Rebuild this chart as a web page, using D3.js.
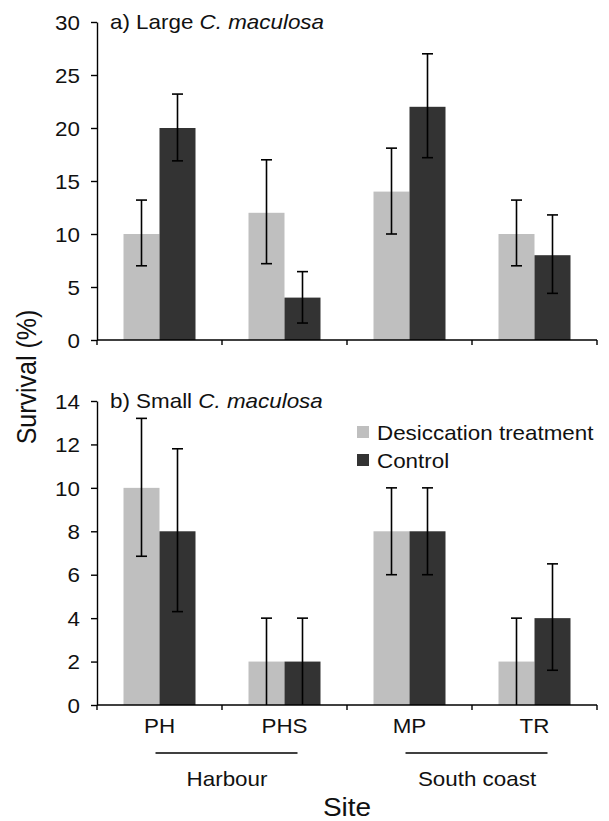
<!DOCTYPE html>
<html>
<head>
<meta charset="utf-8">
<script src="https://cdn.jsdelivr.net/npm/d3@7"></script>
<style>
  html, body { margin: 0; padding: 0; background: #fff; }
  svg { display: block; font-family: "Liberation Sans", Arial, Helvetica, sans-serif; }
</style>
</head>
<body>
<svg id="chart" width="609" height="821"></svg>
<script>
// Sites and coast groupings
const sites = ["PH", "PHS", "MP", "TR"];
const groupNames = ["Harbour", "South coast"];
const groupSites = [["PH", "PHS"], ["MP", "TR"]];
const seriesNames = ["Desiccation treatment", "Control"];
const seriesColors = ["#bfbfbf", "#333333"];

// a) Large C. maculosa — survival (%) with error bar ends
const largeDesiccation   = [10, 12, 14, 10];
const largeDesiccationHi = [13.2, 17.0, 18.1, 13.2];
const largeDesiccationLo = [7.0, 7.2, 10.0, 7.0];
const largeControl       = [20, 4, 22, 8];
const largeControlHi     = [23.2, 6.45, 27.0, 11.8];
const largeControlLo     = [16.9, 1.6, 17.2, 4.4];

// b) Small C. maculosa
const smallDesiccation   = [10, 2, 8, 2];
const smallDesiccationHi = [13.2, 4, 10, 4];
const smallDesiccationLo = [6.85, 0, 6, 0];
const smallControl       = [8, 2, 8, 4];
const smallControlHi     = [11.8, 4, 10, 6.5];
const smallControlLo     = [4.3, 0, 6, 1.6];

const largeTicks = [0, 5, 10, 15, 20, 25, 30];
const smallTicks = [0, 2, 4, 6, 8, 10, 12, 14];

const SX = 1.12;          // horizontal widening of the lettering
const FONT = 20;

const svg = d3.select("#chart");
const left = 97, right = 597;

const x = d3.scaleBand().domain(sites).range([left, right]).paddingInner(0).paddingOuter(0);
const inner = d3.scaleBand().domain([0, 1]).range([0, 72]);
const barOffset = (x.bandwidth() - 72) / 2;

function stretchedText(g, tx, ty, str, opts = {}) {
  const t = g.append("text")
    .attr("transform", `translate(${tx},${ty}) scale(${SX},1)` + (opts.rotate ? ` rotate(${opts.rotate})` : ""))
    .attr("text-anchor", opts.anchor || "start")
    .attr("font-size", opts.size || FONT)
    .attr("fill", "#111");
  if (typeof str === "string") t.text(str);
  else str.forEach(part => t.append("tspan").attr("font-style", part.italic ? "italic" : null).text(part.text));
  return t;
}

function panel(cfg) {
  const y = d3.scaleLinear().domain([0, cfg.max]).range([cfg.bottom, cfg.top]);
  const g = svg.append("g");

  const series = [
    { v: cfg.desic, hi: cfg.desicHi, lo: cfg.desicLo },
    { v: cfg.ctrl, hi: cfg.ctrlHi, lo: cfg.ctrlLo }
  ];

  series.forEach((s, si) => {
    const data = sites.map((site, i) => ({ site, v: s.v[i], hi: s.hi[i], lo: s.lo[i] }));
    const bx = d => x(d.site) + barOffset + inner(si);
    g.selectAll(null).data(data).join("rect")
      .attr("x", bx)
      .attr("y", d => y(d.v))
      .attr("width", inner.bandwidth())
      .attr("height", d => y(0) - y(d.v))
      .attr("fill", seriesColors[si]);

    const cx = d => bx(d) + inner.bandwidth() / 2;
    const eb = g.selectAll(null).data(data).join("g");
    eb.append("line").attr("x1", cx).attr("x2", cx)
      .attr("y1", d => y(d.hi)).attr("y2", d => y(d.lo))
      .attr("stroke", "#000").attr("stroke-width", 1.6);
    eb.append("line").attr("x1", d => cx(d) - 5.5).attr("x2", d => cx(d) + 5.5)
      .attr("y1", d => y(d.hi)).attr("y2", d => y(d.hi))
      .attr("stroke", "#000").attr("stroke-width", 1.6);
    eb.filter(d => d.lo > 0).append("line").attr("x1", d => cx(d) - 5.5).attr("x2", d => cx(d) + 5.5)
      .attr("y1", d => y(d.lo)).attr("y2", d => y(d.lo))
      .attr("stroke", "#000").attr("stroke-width", 1.6);
  });

  // y axis
  const yAxis = g.append("g").attr("transform", `translate(${left},0)`)
    .call(d3.axisLeft(y).tickValues(cfg.ticks).tickSize(6).tickSizeOuter(0).tickPadding(0));
  yAxis.select(".domain").attr("stroke", "#000").attr("stroke-width", 1.4);
  yAxis.selectAll(".tick line").attr("stroke", "#000").attr("stroke-width", 1.4);
  yAxis.selectAll(".tick text")
    .attr("font-family", null)
    .attr("font-size", FONT).attr("fill", "#111")
    .attr("x", -17 / SX).attr("dy", "0.36em")
    .attr("transform", `scale(${SX},1)`);

  // x axis with boundary ticks between sites
  const xAxisG = g.append("g").attr("transform", `translate(0,${cfg.bottom})`);
  xAxisG.append("line").attr("x1", left).attr("x2", right)
    .attr("stroke", "#000").attr("stroke-width", 1.4);
  const bounds = sites.map(s => x(s)).concat([right]);
  xAxisG.selectAll(null).data(bounds).join("line")
    .attr("x1", d => d).attr("x2", d => d).attr("y1", 0).attr("y2", 5)
    .attr("stroke", "#000").attr("stroke-width", 1.4);

  stretchedText(g, 110, cfg.top + 7, cfg.title);
  return y;
}

panel({
  top: 22, bottom: 340, max: 30, ticks: largeTicks,
  desic: largeDesiccation, desicHi: largeDesiccationHi, desicLo: largeDesiccationLo,
  ctrl: largeControl, ctrlHi: largeControlHi, ctrlLo: largeControlLo,
  title: [{ text: "a) Large " }, { text: "C. maculosa", italic: true }]
});

panel({
  top: 401, bottom: 705, max: 14, ticks: smallTicks,
  desic: smallDesiccation, desicHi: smallDesiccationHi, desicLo: smallDesiccationLo,
  ctrl: smallControl, ctrlHi: smallControlHi, ctrlLo: smallControlLo,
  title: [{ text: "b) Small " }, { text: "C. maculosa", italic: true }]
});

// site labels
const labels = svg.append("g");
sites.forEach(s => stretchedText(labels, x(s) + x.bandwidth() / 2, 733, s, { anchor: "middle" }));

// coast groupings
groupNames.forEach((name, i) => {
  const first = x(groupSites[i][0]) + x.bandwidth() / 2;
  const last = x(groupSites[i][groupSites[i].length - 1]) + x.bandwidth() / 2;
  labels.append("line").attr("x1", first - 4).attr("x2", last + 13)
    .attr("y1", 753).attr("y2", 753).attr("stroke", "#000").attr("stroke-width", 1.3);
  stretchedText(labels, (first + last) / 2 + 5, 786, name, { anchor: "middle" });
});

// axis titles
stretchedText(labels, 347, 816, "Site", { anchor: "middle", size: 25 });
stretchedText(labels, 36, 377, "Survival (%)", { anchor: "middle", size: 25, rotate: -90 });

// legend
const legend = svg.append("g");
seriesNames.forEach((name, i) => {
  legend.append("rect").attr("x", 357).attr("y", 426 + i * 28).attr("width", 12).attr("height", 12)
    .attr("fill", seriesColors[i]);
  stretchedText(legend, 377, 440 + i * 28, name, { size: FONT });
});
</script>
</body>
</html>
